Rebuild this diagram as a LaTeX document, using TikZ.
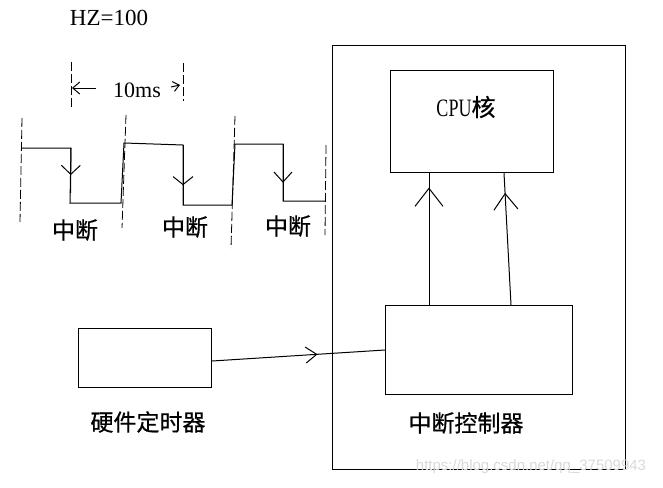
\documentclass[tikz,border=0pt]{standalone}
\usepackage{fontspec}
\setmainfont{Liberation Serif}
\newfontfamily\cjk[FakeBold=0.6]{Noto Sans CJK SC}
\newfontfamily\wmfont{Liberation Sans}
\usetikzlibrary{arrows.meta,decorations.markings}
\tikzset{
  ln/.style={line width=1pt},
  box/.style={draw, line width=1pt, inner sep=0pt, anchor=north west},
  dsh/.style={line width=0.8pt, dash pattern=on 9pt off 3pt},
  midarrow/.style n args={3}{postaction={decorate}, decoration={markings,
     mark=at position #1 with {\arrow{Straight Barb[length=#2,width=#3,line width=1pt]}}}},
  zh/.style={font=\cjk\fontsize{23}{23}\selectfont, inner sep=0pt},
  lat/.style={font=\fontsize{22}{22}\selectfont, inner sep=0pt},
}
\begin{document}
\begin{tikzpicture}[x=1pt,y=-1pt]
\useasboundingbox (0,0) rectangle (663,487);

% ---- top labels
\node[lat, font=\fontsize{23}{23}\selectfont] (hz) at (109,18) {HZ=100};
\node[lat] (tenms) at (137,90) {10ms};

% dimension markers
\draw[dsh] (71,62) -- (71,110);
\draw[dsh] (183,63) -- (183,101);
\draw[ln,-{Straight Barb[length=7pt,width=12pt,line width=1pt]}] (96,88) -- (72,88);
\draw[ln,-{Straight Barb[length=6pt,width=10pt,line width=1pt]}] (171,87) -- (180,85);

% ---- square wave
\draw[ln,line join=miter] (22,148) -- (71,148) -- (70,203) -- (121,203) -- (124,143)
  -- (183,145) -- (183,205) -- (232,205) -- (235,144) -- (283,144) -- (283,201) -- (325,201);
\draw[ln,midarrow={0.6}{9pt}{19pt}] (71,148) -- (70.5,193);
\draw[ln,midarrow={0.67}{8pt}{20pt}] (183,145) -- (183,205);
\draw[ln,midarrow={0.68}{10pt}{18pt}] (283,144) -- (283,201);

% dashed verticals
\draw[dsh] (22,118) -- (20,222);
\draw[dsh] (126,115) -- (122,228);
\draw[dsh] (235,116) -- (231,248);
\draw[dsh] (326,145) -- (325,235);

\node[zh] (int1) at (75,230) {中断};
\node[zh] (int2) at (185,227) {中断};
\node[zh] (int3) at (288,226) {中断};

% ---- boxes
\node[box, minimum width=293pt, minimum height=424pt] (outer) at (332,45) {};
\node[box, minimum width=163pt, minimum height=102pt] (cpu) at (390,70) {};
\node[box, minimum width=187pt, minimum height=89pt] (ctrl) at (385,305) {};
\node[box, minimum width=133pt, minimum height=59pt] (timer) at (78,328) {};

\node[inner sep=0pt] (cpulbl) at (466,107)
  {\fontsize{25}{25}\selectfont\scalebox{0.72}[1]{CPU}\cjk\fontsize{24}{24}\selectfont 核};
\node[zh] (timerlbl) at (148,422) {硬件定时器};
\node[zh] (ctrllbl) at (466,423) {中断控制器};

% ---- connectors
\coordinate (a1) at (429,0);
\coordinate (a2) at (511,0);
\coordinate (a3) at (504,0);
\draw[ln,midarrow={0.89}{18pt}{28pt}] (ctrl.north -| a1) -- (cpu.south -| a1);
\draw[ln,midarrow={0.85}{16pt}{24pt}] (ctrl.north -| a2) -- (cpu.south -| a3);
\draw[ln,midarrow={0.61}{11pt}{16pt}] ([yshift=-3pt]timer.east) -- (ctrl.west);

% watermark
\node[font=\wmfont\fontsize{15}{15}\selectfont, text=black!15, inner sep=0pt] (wm) at (531,467)
  {https://blog.csdn.net/qq\_37509943};
\end{tikzpicture}
\end{document}
